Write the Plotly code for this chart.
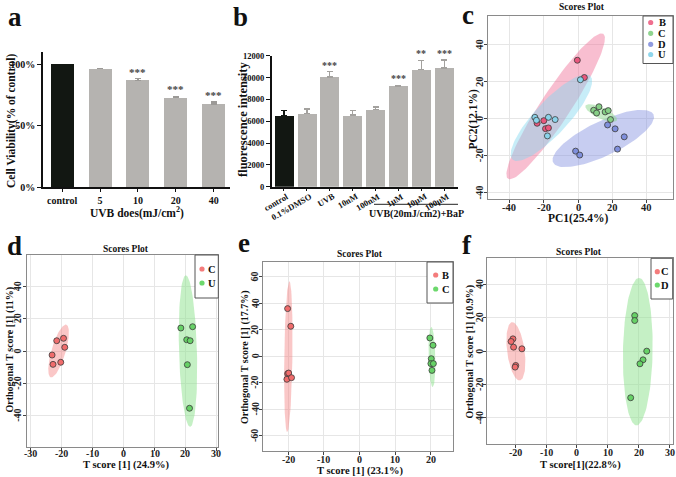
import numpy as np
import plotly.graph_objects as go

W, H = 676, 477
FONT = "Liberation Serif"

# ---------------- data ----------------
a_categories = ["control", "5", "10", "20", "40"]
a_values = [100, 96.4, 87.0, 72.8, 67.6]
a_errors = [0, 0.3, 1.3, 1.1, 1.7]
a_stars = ["", "", "***", "***", "***"]
a_yticks = [0, 50, 100]
a_yticklabels = ["0%", "50%", "100%"]

b_categories = ["control", "0.1%DMSO", "UVB", "10nM", "100nM", "1μM", "10μM", "100μM"]
b_values = [6480, 6720, 10070, 6550, 7050, 9220, 10750, 10870]
b_errors = [480, 380, 470, 450, 250, 60, 820, 720]
b_stars = ["", "", "***", "", "", "***", "**", "***"]
b_yticks = [0, 2000, 4000, 6000, 8000, 10000, 12000]
b_group_label = "UVB(20mJ/cm2)+BaP"

# panel c (PCA)
c_B_x = [-0.4, 3.7, -23.8, -19.9, -18.9, -17.2]
c_B_y = [31.4, 22.1, -2.5, -1.1, -5.4, -5.0]
c_C_x = [9.1, 12.2, 10.8, 15.8, 17.6, 18.9]
c_C_y = [4.5, 6.4, 3.0, 3.6, 4.3, -0.5]
c_D_x = [17.2, 21.6, 26.9, 23.0, -1.4, 1.0]
c_D_y = [-3.4, -5.5, -9.8, -16.4, -17.5, -19.6]
c_U_x = [1.4, -25.1, -24.2, -17.2, -13.3, -17.8]
c_U_y = [20.9, 0.7, -0.9, 0.7, -0.5, -9.3]
c_xticks = [-40, -20, 0, 20, 40]
c_yticks = [-40, -20, 0, 20, 40]

# panel d (OPLS-DA C vs U)
d_C_x = [-21.6, -19.4, -19.0, -23.1, -22.8, -20.3]
d_C_y = [6.4, 7.9, 2.3, -2.5, -8.3, -7.0]
d_U_x = [18.5, 22.3, 20.4, 21.5, 20.6, 21.3]
d_U_y = [14.3, 15.1, 7.0, 6.4, -8.5, -35.6]
d_xticks = [-30, -20, -10, 0, 10, 20, 30]
d_yticks = [-40, -20, 0, 20, 40]

# panel e (OPLS-DA B vs C)
e_B_x = [-20.2, -19.3, -20.2, -19.9, -20.4, -19.1]
e_B_y = [35.9, 22.6, -13.1, -12.6, -17.3, -16.1]
e_C_x = [19.7, 20.6, 20.1, 20.0, 20.7, 20.3]
e_C_y = [13.8, 8.3, -1.8, -5.5, -5.5, -10.6]
e_xticks = [-20, -10, 0, 10, 20]
e_yticks = [-60, -40, -20, 0, 20, 40, 60]

# panel f (OPLS-DA C vs D)
f_C_x = [-20.7, -21.3, -20.5, -17.8, -19.8, -20.0]
f_C_y = [7.4, 5.8, 2.4, 1.4, -8.6, -9.6]
f_D_x = [18.7, 18.7, 22.6, 21.4, 20.4, 17.4]
f_D_y = [21.4, 18.4, 0.0, -5.2, -7.6, -28.0]
f_xticks = [-20, -10, 0, 10, 20, 30]
f_yticks = [-40, -20, 0, 20, 40]

# confidence ellipses: centre, semi-axis vector 1, semi-axis vector 2 (data units)
c_B_ell = [-13.0, 6.6, 27.7, 39.0, 7.3, -4.4]
c_U_ell = [-15.5, 0.5, 22.6, 22.5, 7.1, -6.1]
c_C_ell = [13.5, 3.0, 9.1, -3.9, -1.4, -2.7]
c_D_ell = [14.7, -10.7, 29.2, 12.9, 4.3, -8.4]
d_C_ell = [-21.0, 0.0, 2.5, 16.4, 2.2, -1.2]
d_U_ell = [20.8, 0.0, -0.7, 47.1, 2.9, 0.2]
e_B_ell = [-20.0, -0.3, 0.3, 56.8, 1.15, 0.0]
e_C_ell = [20.3, -0.5, -0.2, 22.6, 0.95, 0.0]
f_C_ell = [-19.75, -0.1, -1.15, 17.5, 2.85, 0.0]
f_D_ell = [19.7, -0.3, 0.4, 44.3, 4.8, 0.0]

# ---------------- helpers ----------------
def X(px):
    return px / W

def Y(py):
    return 1 - py / H

def bfont(size, color="#111"):
    return dict(family=FONT, size=size, color=color, weight="bold")

fig = go.Figure()
annotations = []
shapes = []

def ann(text, px, py, size, angle=0, xanchor="center", yanchor="middle", color="#111"):
    annotations.append(dict(text=text, x=X(px), y=Y(py), xref="paper", yref="paper",
                            showarrow=False, textangle=angle, xanchor=xanchor,
                            yanchor=yanchor, font=bfont(size, color)))

def tick_labels(xticks, yticks, xref, yref, label_y_px, label_x_px, size=10):
    for v in xticks:
        annotations.append(dict(text=str(v), x=v, y=Y(label_y_px), xref=xref, yref="paper",
                                showarrow=False, xanchor="center", yanchor="middle",
                                font=bfont(size, "#222")))
    for v in yticks:
        annotations.append(dict(text=str(v), x=X(label_x_px), y=v, xref="paper", yref=yref,
                                showarrow=False, xanchor="center", yanchor="middle", textangle=-90,
                                font=bfont(size, "#222")))

def ellipse_xy(p, n=120):
    t = np.linspace(0, 2 * np.pi, n)
    cx, cy, ax, ay, bx, by = p
    return cx + ax * np.cos(t) + bx * np.sin(t), cy + ay * np.cos(t) + by * np.sin(t)

def add_ellipse(p, fill, xa, ya):
    ex, ey = ellipse_xy(p)
    fig.add_trace(go.Scatter(x=ex, y=ey, mode="lines", fill="toself", fillcolor=fill,
                             line=dict(width=0), hoverinfo="skip", showlegend=False,
                             xaxis=xa, yaxis=ya))

def add_points(xs, ys, color, xa, ya):
    fig.add_trace(go.Scatter(x=xs, y=ys, mode="markers", hoverinfo="skip", showlegend=False,
                             marker=dict(size=6, color=color, line=dict(color="#3a3a3a", width=0.8)),
                             xaxis=xa, yaxis=ya))

def legend_box(x0, y0, x1, y1, entries, ys, mx, tx):
    shapes.append(dict(type="rect", xref="paper", yref="paper", x0=X(x0), x1=X(x1),
                       y0=Y(y1), y1=Y(y0), line=dict(color="#555", width=1), fillcolor="white"))
    for (lab, col), yy in zip(entries, ys):
        r = 2.6
        shapes.append(dict(type="circle", xref="paper", yref="paper",
                           x0=X(mx - r), x1=X(mx + r), y0=Y(yy + r), y1=Y(yy - r),
                           fillcolor=col, line=dict(width=0)))
        ann(lab, tx, yy, 10.5)

# ---------------- panel a ----------------
ax_idx = list(range(len(a_categories)))
fig.add_trace(go.Bar(x=ax_idx[:1], y=a_values[:1], width=0.607, marker=dict(color="#121712", line=dict(width=0)),
                     error_y=dict(type="data", array=a_errors[:1], arrayminus=[0], symmetric=False,
                                  color="#121712", thickness=1.2, width=3),
                     xaxis="x", yaxis="y", showlegend=False))
fig.add_trace(go.Bar(x=ax_idx[1:], y=a_values[1:], width=0.607, marker=dict(color="#b5b3b0", line=dict(width=0)),
                     error_y=dict(type="data", array=a_errors[1:], arrayminus=[0] * 4, symmetric=False,
                                  color="#9c9a97", thickness=1.2, width=3),
                     xaxis="x", yaxis="y", showlegend=False))
for i, s in enumerate(a_stars):
    if s:
        annotations.append(dict(text=s, x=i, y=a_values[i] + a_errors[i], xref="x", yref="y",
                                showarrow=False, yanchor="bottom", yshift=-1, font=bfont(11, "#444")))

# ---------------- panel b ----------------
bx_idx = list(range(len(b_categories)))
fig.add_trace(go.Bar(x=bx_idx[:1], y=b_values[:1], width=0.83, marker=dict(color="#121712", line=dict(width=0)),
                     error_y=dict(type="data", array=b_errors[:1], arrayminus=[0], symmetric=False,
                                  color="#121712", thickness=1.5, width=3),
                     xaxis="x2", yaxis="y2", showlegend=False))
fig.add_trace(go.Bar(x=bx_idx[1:], y=b_values[1:], width=0.83, marker=dict(color="#b5b3b0", line=dict(width=0)),
                     error_y=dict(type="data", array=b_errors[1:], arrayminus=[0] * 7, symmetric=False,
                                  color="#a3a19e", thickness=1.5, width=3),
                     xaxis="x2", yaxis="y2", showlegend=False))
for i, s in enumerate(b_stars):
    if s:
        annotations.append(dict(text=s, x=i, y=b_values[i] + b_errors[i], xref="x2", yref="y2",
                                showarrow=False, yanchor="bottom", yshift=-1, font=bfont(10, "#444")))
for i, lab in enumerate(b_categories):
    annotations.append(dict(text=lab, x=i, y=Y(188.5), xref="x2", yref="paper", xshift=9,
                            showarrow=False, xanchor="right", yanchor="top", textangle=-30,
                            font=bfont(8.5)))
shapes.append(dict(type="line", xref="paper", yref="paper", x0=X(374), x1=X(458), y0=Y(204.3), y1=Y(204.3),
                   line=dict(color="#222", width=1)))
ann(b_group_label, 416.7, 213.5, 10)

# ---------------- panel c ----------------
ell_cols = {
    "B": ("rgba(240,110,150,0.45)", "#e8577e"),
    "C": ("rgba(140,215,140,0.5)", "#86cf86"),
    "D": ("rgba(130,145,225,0.45)", "#7f8fdc"),
    "U": ("rgba(130,215,240,0.45)", "#8ad3ea"),
}
add_ellipse(c_B_ell, ell_cols["B"][0], "x3", "y3")
add_ellipse(c_U_ell, ell_cols["U"][0], "x3", "y3")
add_ellipse(c_D_ell, ell_cols["D"][0], "x3", "y3")
add_ellipse(c_C_ell, ell_cols["C"][0], "x3", "y3")
add_points(c_B_x, c_B_y, ell_cols["B"][1], "x3", "y3")
add_points(c_C_x, c_C_y, ell_cols["C"][1], "x3", "y3")
add_points(c_D_x, c_D_y, ell_cols["D"][1], "x3", "y3")
add_points(c_U_x, c_U_y, ell_cols["U"][1], "x3", "y3")
legend_box(643, 16, 673, 63.5, [("B", "#ef6f8f"), ("C", "#8fd48f"), ("D", "#8f9be0"), ("U", "#8fd6ec")],
           [22.5, 33.3, 44.3, 54.5], 650.7, 662)
tick_labels(c_xticks, c_yticks, "x3", "y3", 207.5, 479.5, 10.5)

RED_FILL, RED_PT = "rgba(245,130,130,0.45)", "#f06c6c"
GRN_FILL, GRN_PT = "rgba(140,225,140,0.5)", "#66d166"

# ---------------- panel d ----------------
add_ellipse(d_C_ell, RED_FILL, "x4", "y4")
add_ellipse(d_U_ell, GRN_FILL, "x4", "y4")
add_points(d_C_x, d_C_y, RED_PT, "x4", "y4")
add_points(d_U_x, d_U_y, GRN_PT, "x4", "y4")
legend_box(195, 255, 218.3, 298, [("C", "#f47c7c"), ("U", "#6cd86c")], [269, 283], 202, 211.5)
tick_labels(d_xticks, d_yticks, "x4", "y4", 453, 17.5)

# ---------------- panel e ----------------
add_ellipse(e_B_ell, RED_FILL, "x5", "y5")
add_ellipse(e_C_ell, GRN_FILL, "x5", "y5")
add_points(e_B_x, e_B_y, RED_PT, "x5", "y5")
add_points(e_C_x, e_C_y, GRN_PT, "x5", "y5")
legend_box(427, 262, 453, 303, [("B", "#f47c7c"), ("C", "#6cd86c")], [275, 289], 435.7, 445.7)
tick_labels(e_xticks, e_yticks, "x5", "y5", 459.5, 255)

# ---------------- panel f ----------------
add_ellipse(f_C_ell, RED_FILL, "x6", "y6")
add_ellipse(f_D_ell, GRN_FILL, "x6", "y6")
add_points(f_C_x, f_C_y, RED_PT, "x6", "y6")
add_points(f_D_x, f_D_y, GRN_PT, "x6", "y6")
legend_box(651, 258.3, 672.7, 299, [("C", "#f47c7c"), ("D", "#6cd86c")], [271.7, 285], 657.3, 665)
tick_labels(f_xticks, f_yticks, "x6", "y6", 452.5, 479.5)

# ---------------- texts ----------------
for lab, px, py in [("a", 15, 17), ("b", 240, 17), ("c", 468, 15), ("d", 14, 246), ("e", 244, 243), ("f", 467, 245)]:
    ann(lab, px, py, 27)
ann("Cell Viability(% of control)", 12, 121, 11.5, angle=-90)
ann("UVB does(mJ/cm<sup>2</sup>)", 137, 212, 11.5)
ann("fluorescence intensity", 243, 120, 12.5, angle=-90)
ann("Scores Plot", 582, 7, 9.5)
ann("PC1(25.4%)", 578, 218.5, 11.5)
ann("PC2(12.1%)", 472.5, 119, 11.5, angle=-90)
ann("Scores Plot", 126, 249, 9.5)
ann("T score [1] (24.9%)", 126, 465, 10.5)
ann("Orthogonal T score [1] (11%)", 9.5, 350, 10, angle=-90)
ann("Scores Plot", 360, 254, 9.5)
ann("T score [1] (23.1%)", 360, 470.5, 10.5)
ann("Orthogonal T score [1] (17.7%)", 245, 357, 10, angle=-90)
ann("Scores Plot", 579, 252, 9.5)
ann("T score[1](22.8%)", 580, 464.5, 10.5)
ann("Orthogonal T score [1] (10.9%)", 469.5, 352, 10, angle=-90)

# ---------------- axes ----------------
def bar_x(dom, rng, ticktext, size, anchor, show=True):
    return dict(domain=dom, range=rng, tickvals=list(range(len(ticktext))), ticktext=ticktext,
                anchor=anchor, automargin=False, showticklabels=show,
                showline=True, linecolor="#111", linewidth=1.5, ticks="outside", ticklen=3,
                tickcolor="#111", tickwidth=1, showgrid=False, zeroline=False,
                tickfont=bfont(size), fixedrange=True)

def bar_y(dom, rng, tickvals, ticktext, size, anchor):
    return dict(domain=dom, range=rng, tickvals=tickvals, ticktext=ticktext, anchor=anchor,
                automargin=False,
                showline=True, linecolor="#111", linewidth=1.5, ticks="outside", ticklen=4,
                tickcolor="#111", tickwidth=1.2, showgrid=False, zeroline=False,
                tickfont=bfont(size), fixedrange=True)

def sc_ax(dom, rng, tickvals, anchor):
    return dict(domain=dom, range=rng, tickvals=tickvals, anchor=anchor, showline=True, mirror=True,
                automargin=False, showticklabels=False,
                linecolor="#8a8a8a", linewidth=1, ticks="outside", ticklen=3, tickcolor="#444",
                showgrid=True, gridcolor="#e6e6e6", gridwidth=1, zeroline=False, fixedrange=True)

fig.update_layout(
    template="none",
    width=W, height=H, margin=dict(l=0, r=0, t=0, b=0, pad=0),
    paper_bgcolor="white", plot_bgcolor="white", showlegend=False, bargap=0,
    xaxis=bar_x([X(43), X(230)], [-0.507, 4.43], a_categories, 10, "y"),
    yaxis=bar_y([Y(187), Y(52)], [0, 110], a_yticks, a_yticklabels, 10, "x"),
    xaxis2=bar_x([X(271.7), X(458)], [-0.53, 7.6], b_categories, 8.5, "y2", show=False),
    yaxis2=bar_y([Y(186.7), Y(55.7)], [0, 12000], b_yticks, [str(v) for v in b_yticks], 8.5, "x2"),
    xaxis3=sc_ax([X(488.3), X(672.7)], [-52.2, 55.1], c_xticks, "y3"),
    yaxis3=sc_ax([Y(199.3), Y(16)], [-43.4, 55.2], c_yticks, "x3"),
    xaxis4=sc_ax([X(26.7), X(218.3)], [-31.3, 30.6], d_xticks, "y4"),
    yaxis4=sc_ax([Y(446.7), Y(255)], [-59.5, 59.7], d_yticks, "x4"),
    xaxis5=sc_ax([X(263), X(453)], [-27.1, 26.2], e_xticks, "y5"),
    yaxis5=sc_ax([Y(451), Y(262)], [-71.3, 71], e_yticks, "x5"),
    xaxis6=sc_ax([X(487.3), X(672.7)], [-29, 31], f_xticks, "y6"),
    yaxis6=sc_ax([Y(444), Y(258.3)], [-55.8, 55.8], f_yticks, "x6"),
    annotations=annotations, shapes=shapes,
)

fig.write_html("out.html", config={"displayModeBar": False},
               post_script="document.body.style.margin='0';document.body.style.overflow='hidden';")
